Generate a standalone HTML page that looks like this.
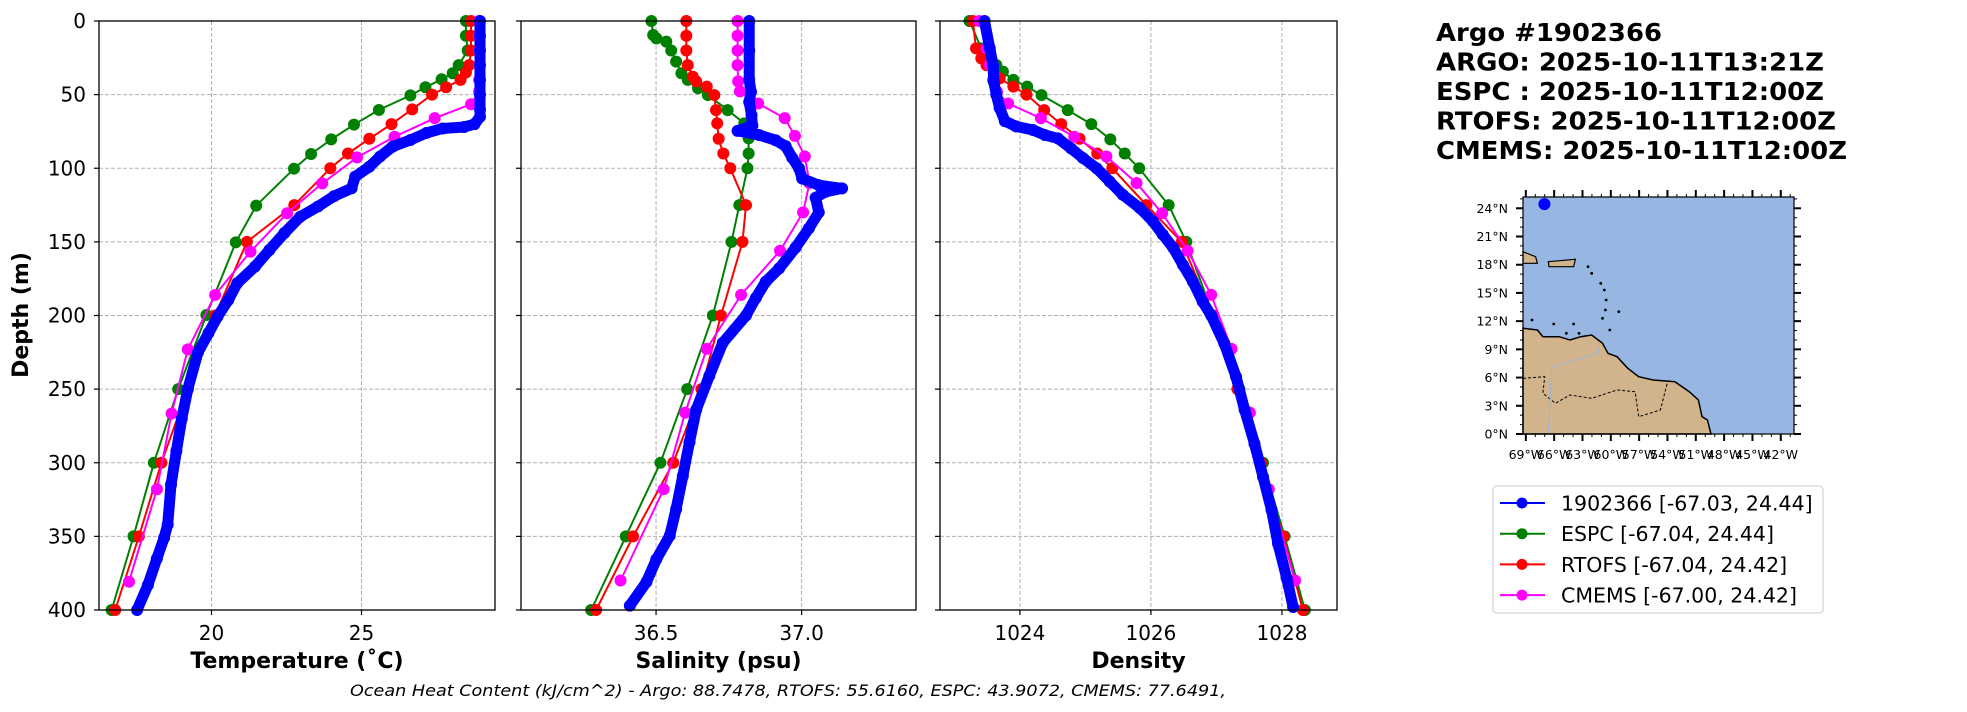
<!DOCTYPE html>
<html><head><meta charset="utf-8"><style>
html,body{margin:0;padding:0;background:#fff;}
svg{display:block;font-family:"DejaVu Sans","Liberation Sans",sans-serif;}
</style></head><body>
<svg id="fig" width="1967" height="712" viewBox="0 0 1967 712" xmlns="http://www.w3.org/2000/svg"></svg>
<script>
// ---- data ----
const tempTicks=[20,25];
const salTicks=[36.5,37.0];
const salTickLabels=["36.5","37.0"];
const denTicks=[1024,1026,1028];
const depthTicks=[0,50,100,150,200,250,300,350,400];
const seriesNames=["1902366 [-67.03, 24.44]","ESPC [-67.04, 24.44]","RTOFS [-67.04, 24.42]","CMEMS [-67.00, 24.42]"];
const seriesColors=["#0000ff","#008000","#ff0000","#ff00ff"];

const argoTempDepth=[0,10,20,30,40,50,60,65,70,72,73,76,80.8,85.3,92,99,105.7,113.6,119,126,132.9,144,155.5,166.8,178,189.5,200.8,212,225,250,270,292,315,342,351,365,383,400];
const argoTemp=[28.95,28.95,28.95,28.95,28.95,28.95,28.95,28.95,28.77,28.42,27.70,27.17,26.63,26.04,25.62,25.26,24.79,24.67,24.08,23.55,22.96,22.43,21.93,21.45,20.86,20.56,20.20,19.90,19.55,19.21,19.01,18.83,18.65,18.54,18.42,18.18,17.88,17.52];
const espcTempDepth=[0,10,20,30,35.5,39.6,45,50.5,60.4,70.4,80.4,90.3,100.3,125.4,150.3,199.7,250,300,350,400];
const espcTemp=[28.48,28.48,28.54,28.24,28.04,27.67,27.13,26.63,25.58,24.75,23.99,23.32,22.75,21.49,20.81,19.83,18.89,18.08,17.40,16.67];
const rtofsTempDepth=[0,10,20,30,35,40,45,50,60,70,80,90,100,125,150,200,250,300,350,400];
const rtofsTemp=[28.65,28.65,28.65,28.59,28.48,28.30,27.82,27.35,26.69,26.00,25.26,24.55,23.96,22.76,21.18,20.12,19.21,18.33,17.58,16.79];
const cmemsTempDepth=[0,10,20,30,40,47.8,56.5,66,78.6,92.6,110.3,130.6,156.6,186,223,266.6,318,380.8];
const cmemsTemp=[28.92,28.92,28.92,28.92,28.92,28.92,28.65,27.44,26.10,24.85,23.69,22.52,21.30,20.12,19.21,18.67,18.18,17.25];

const argoSalDepth=[0,20,40,48,55,64,71,74.6,77.4,81,85,93,100,107,111.5,113.7,116,120,130,140.8,154,168,177,188,200,218.6,241,264,286,309,331.5,349.6,365.5,381,397];
const argoSal=[36.820,36.820,36.820,36.826,36.820,36.828,36.831,36.780,36.854,36.911,36.945,36.968,36.991,37.002,37.059,37.139,37.082,37.048,37.059,37.025,36.979,36.923,36.877,36.843,36.809,36.729,36.683,36.638,36.615,36.592,36.569,36.547,36.501,36.467,36.410];
const espcSalDepth=[0,9.5,11.8,14,20,27.6,35.5,40,45.7,50.3,60.5,69.5,79.7,90,100,125,150,200,250,300,350,400];
const espcSal=[36.484,36.490,36.501,36.535,36.552,36.569,36.587,36.609,36.644,36.678,36.746,36.803,36.818,36.818,36.814,36.786,36.759,36.695,36.607,36.515,36.396,36.277];
const rtofsSalDepth=[0,10,20,30,37.8,41,44.6,50.3,60.5,69.5,80,90,100,125,150,200,250,300,350,400];
const rtofsSal=[36.604,36.604,36.604,36.609,36.626,36.638,36.674,36.700,36.706,36.710,36.715,36.731,36.755,36.809,36.797,36.723,36.656,36.559,36.421,36.294];
const cmemsSalDepth=[0,10,20,30,41,47.8,56,66,78,92,110,130,156,186,222.7,266,318,380];
const cmemsSal=[36.780,36.780,36.780,36.780,36.782,36.788,36.851,36.942,36.977,37.011,37.027,37.005,36.926,36.792,36.674,36.600,36.526,36.378];

const argoDenDepth=[0,18.6,30,41,50,59,68,71.6,74,77.4,79.7,86.5,93,100,109,118,127,136,145,154,165.7,177,190.6,200,219,241.7,264,287,309.5,332,355,378,398];
const argoDen=[1023.46,1023.54,1023.59,1023.60,1023.64,1023.69,1023.77,1023.94,1024.20,1024.38,1024.58,1024.78,1024.96,1025.17,1025.37,1025.57,1025.83,1026.03,1026.18,1026.34,1026.49,1026.64,1026.79,1026.92,1027.12,1027.30,1027.43,1027.58,1027.71,1027.84,1027.94,1028.07,1028.17];
const espcDenDepth=[0,18.6,29.9,34.4,40,44.6,50.3,60.5,70,80.4,90,100,125,150,200,250,300,350,400];
const espcDen=[1023.23,1023.41,1023.64,1023.74,1023.90,1024.11,1024.33,1024.73,1025.09,1025.38,1025.60,1025.82,1026.27,1026.54,1026.95,1027.35,1027.71,1028.04,1028.35];
const rtofsDenDepth=[0,18.6,25.4,30,39,44.6,50,60.5,70,80,90,100,125,150,200,250,300,350,400];
const rtofsDen=[1023.28,1023.33,1023.41,1023.49,1023.69,1023.90,1024.10,1024.37,1024.63,1024.91,1025.18,1025.41,1025.93,1026.47,1026.94,1027.32,1027.68,1028.02,1028.32];
const cmemsDenDepth=[0,18.6,30,40,48,56,66,78.6,92,110,130.6,156,186,222.7,266,318,380];
const cmemsDen=[1023.38,1023.49,1023.54,1023.59,1023.65,1023.82,1024.32,1024.83,1025.32,1025.78,1026.17,1026.56,1026.92,1027.23,1027.51,1027.80,1028.20];

const latTicks=[0,3,6,9,12,15,18,21,24];
const lonTicks=[-69,-66,-63,-60,-57,-54,-51,-48,-45,-42];
const argoLon=-67.03, argoLat=24.44;

// ---- helpers ----
const NS="http://www.w3.org/2000/svg";
const svg=document.getElementById('fig');
function mk(tag,attrs,parent){const e=document.createElementNS(NS,tag);for(const k in attrs)e.setAttribute(k,attrs[k]);(parent||svg).appendChild(e);return e;}
const TOP=21,BOT=610;
function yScale(d){return TOP+(d/400)*(BOT-TOP);}

const panels=[
 {name:'temperature',x0:99,x1:495,min:16.25,max:29.45,ticks:tempTicks,labels:tempTicks.map(String),title:'Temperature (˚C)',
  series:[[argoTempDepth,argoTemp],[espcTempDepth,espcTemp],[rtofsTempDepth,rtofsTemp],[cmemsTempDepth,cmemsTemp]]},
 {name:'salinity',x0:521,x1:916,min:36.036,max:37.393,ticks:salTicks,labels:salTickLabels,title:'Salinity (psu)',
  series:[[argoSalDepth,argoSal],[espcSalDepth,espcSal],[rtofsSalDepth,rtofsSal],[cmemsSalDepth,cmemsSal]]},
 {name:'density',x0:940,x1:1337,min:1022.78,max:1028.84,ticks:denTicks,labels:denTicks.map(String),title:'Density',
  series:[[argoDenDepth,argoDen],[espcDenDepth,espcDen],[rtofsDenDepth,rtofsDen],[cmemsDenDepth,cmemsDen]]}
];
const order=[1,2,3,0];
panels.forEach((p,pi)=>{
  const g=mk('g',{});
  
  
  const xs=v=>p.x0+(v-p.min)/(p.max-p.min)*(p.x1-p.x0);
  depthTicks.forEach(d=>{
    const l=mk('line',{x1:p.x0,x2:p.x1,y1:yScale(d),y2:yScale(d),stroke:'#b0b0b0','stroke-width':1,'stroke-dasharray':'4,2'},g);
    
    
    mk('line',{x1:p.x0-5,x2:p.x0,y1:yScale(d),y2:yScale(d),stroke:'#000','stroke-width':1.2},g);
    if(pi===0){
      const t=mk('text',{x:86,y:yScale(d)+7,'text-anchor':'end','font-size':20},g);
      t.textContent=d;
      
      
    }
  });
  p.ticks.forEach((v,i)=>{
    const l=mk('line',{x1:xs(v),x2:xs(v),y1:TOP,y2:BOT,stroke:'#b0b0b0','stroke-width':1,'stroke-dasharray':'4,2'},g);
    
    
    mk('line',{x1:xs(v),x2:xs(v),y1:BOT,y2:BOT+5,stroke:'#000','stroke-width':1.2},g);
    const t=mk('text',{x:xs(v),y:640,'text-anchor':'middle','font-size':20},g);
    t.textContent=p.labels[i];
    
    
  });
  const clip=mk('clipPath',{id:'clip'+pi},g);
  mk('rect',{x:p.x0,y:TOP-7,width:p.x1-p.x0,height:BOT-TOP+14},clip);
  const sg=mk('g',{'clip-path':'url(#clip'+pi+')'},g);
  order.forEach(si=>{
    const [ds,vs]=p.series[si];
    const pts=ds.map((d,i)=>xs(vs[i]).toFixed(1)+','+yScale(d).toFixed(1)).join(' ');
    const pl=mk('polyline',{points:pts,fill:'none',stroke:seriesColors[si],'stroke-width':si===0?11:2,'stroke-linejoin':'round','stroke-linecap':'round'},sg);
    
    
    ds.forEach((d,i)=>{
      const c=mk('circle',{cx:xs(vs[i]),cy:yScale(d),r:6,fill:seriesColors[si]},sg);
      
      
    });
  });
  const fr=mk('rect',{x:p.x0,y:TOP,width:p.x1-p.x0,height:BOT-TOP,fill:'none',stroke:'#000','stroke-width':1.3},g);
  
  
  const at=mk('text',{x:(p.x0+p.x1)/2,y:668,'text-anchor':'middle','font-size':22,'font-weight':'bold'},g);
  at.textContent=p.title;
  
  
});
const yt=mk('text',{x:0,y:0,'text-anchor':'middle','font-size':22,'font-weight':'bold',transform:'translate(28,315) rotate(-90)'});
yt.textContent='Depth (m)';



const ft=mk('text',{x:350,y:696,'font-size':16,'font-style':'italic',textLength:876,lengthAdjust:'spacingAndGlyphs'});
ft.textContent='Ocean Heat Content (kJ/cm^2) - Argo: 88.7478,  RTOFS: 55.6160,  ESPC: 43.9072,  CMEMS: 77.6491,';



// ---- title ----
const titleLines=['Argo #1902366','ARGO: 2025-10-11T13:21Z','ESPC : 2025-10-11T12:00Z','RTOFS: 2025-10-11T12:00Z','CMEMS: 2025-10-11T12:00Z'];
const titleW=[226,388,388,400,411];
titleLines.forEach((s,i)=>{
  const t=mk('text',{x:1436,y:41+i*29.5,'font-size':25,'font-weight':'bold',textLength:titleW[i],lengthAdjust:'spacingAndGlyphs'});
  t.textContent=s;
  
  
});

// ---- map ----
const MX0=1523,MX1=1794,MY0=197,MY1=434;
const lonMin=-69.3,lonMax=-40.6,latMin=0,latMax=25.2;
const mx=l=>MX0+(l-lonMin)/(lonMax-lonMin)*(MX1-MX0);
const my=l=>MY1-(l-latMin)/(latMax-latMin)*(MY1-MY0);
const mg=mk('g',{});


mk('rect',{x:MX0,y:MY0,width:MX1-MX0,height:MY1-MY0,fill:'#97b6e1'},mg);
const zp=(a)=>a.map(q=>(1400+q[0]/2.765).toFixed(1)+','+(q[1]/3).toFixed(1)).join(' ');
const land=mk('polygon',{points:zp([[340,985],[380,990],[395,1010],[440,1010],[470,1020],[500,1010],[530,1005],[560,1030],[575,1060],[600,1070],[630,1105],[660,1130],[700,1140],[760,1145],[800,1175],[825,1200],[835,1250],[850,1260],[860,1302],[340,1302]]),fill:'#d2b48c',stroke:'#000','stroke-width':1.5},mg);


mk('polygon',{points:zp([[340,755],[375,770],[380,790],[340,790]]),fill:'#d2b48c',stroke:'#000','stroke-width':1.2},mg);
mk('polygon',{points:zp([[410,785],[485,778],[480,800],[412,800]]),fill:'#d2b48c',stroke:'#000','stroke-width':1.2},mg);
[[520,800],[530,820],[555,850],[565,870],[570,900],[568,930],[560,955],[605,935],[580,990],[365,960],[425,972],[480,972],[495,1000],[460,1000]].forEach(q=>{
  mk('circle',{cx:1400+q[0]/2.765,cy:q[1]/3,r:1.4,fill:'#000'},mg);
});
mk('polyline',{points:zp([[340,1135],[400,1130],[395,1180],[430,1210],[470,1185],[530,1195],[600,1170],[650,1175],[660,1250],[720,1230],[740,1145]]),fill:'none',stroke:'#000','stroke-width':1,'stroke-dasharray':'3,2'},mg);
mk('polyline',{points:zp([[410,1300],[420,1100],[550,1060],[545,1030]]),fill:'none',stroke:'#9ab5d8','stroke-width':1},mg);
mk('rect',{x:MX0,y:MY0,width:MX1-MX0,height:MY1-MY0,fill:'none',stroke:'#000','stroke-width':1.2},mg);
latTicks.forEach(l=>{
  mk('line',{x1:MX0-7,x2:MX0,y1:my(l),y2:my(l),stroke:'#000','stroke-width':2},mg);
  mk('line',{x1:MX1,x2:MX1+7,y1:my(l),y2:my(l),stroke:'#000','stroke-width':2},mg);
  const t=mk('text',{x:1508,y:my(l)+4.5,'text-anchor':'end','font-size':12.5},mg);
  t.textContent=l+'°N';
  
  
});
lonTicks.forEach(l=>{
  mk('line',{x1:mx(l),x2:mx(l),y1:MY1,y2:MY1+7,stroke:'#000','stroke-width':2},mg);
  mk('line',{x1:mx(l),x2:mx(l),y1:MY0-7,y2:MY0,stroke:'#000','stroke-width':2},mg);
  const t=mk('text',{x:mx(l),y:459,'text-anchor':'middle','font-size':12.5},mg);
  t.textContent=(-l)+'°W';
  
  
});
for(let l=-69;l<=-41;l+=1){mk('line',{x1:mx(l),x2:mx(l),y1:MY1,y2:MY1+3,stroke:'#000','stroke-width':1},mg);mk('line',{x1:mx(l),x2:mx(l),y1:MY0-3,y2:MY0,stroke:'#000','stroke-width':1},mg);}
for(let l=0;l<=25;l+=1){mk('line',{x1:MX0-3,x2:MX0,y1:my(l),y2:my(l),stroke:'#000','stroke-width':1},mg);mk('line',{x1:MX1,x2:MX1+3,y1:my(l),y2:my(l),stroke:'#000','stroke-width':1},mg);}
const ap=mk('circle',{cx:mx(argoLon),cy:my(argoLat),r:6,fill:'#0000ff'},mg);



// ---- legend ----
const lg=mk('g',{});


mk('rect',{x:1493,y:486,width:330,height:127,rx:4,fill:'#fff',stroke:'#d6d6d6','stroke-width':1.3},lg);
seriesNames.forEach((n,i)=>{
  const y=503+i*30.7;
  const e=mk('g',{},lg);
  
  
  mk('line',{x1:1500,x2:1545,y1:y,y2:y,stroke:seriesColors[i],'stroke-width':2},e);
  mk('circle',{cx:1522,cy:y,r:5.5,fill:seriesColors[i]},e);
  const t=mk('text',{x:1561,y:y+7.5,'font-size':20.5},e);
  t.textContent=n;
});
</script>
</body></html>
